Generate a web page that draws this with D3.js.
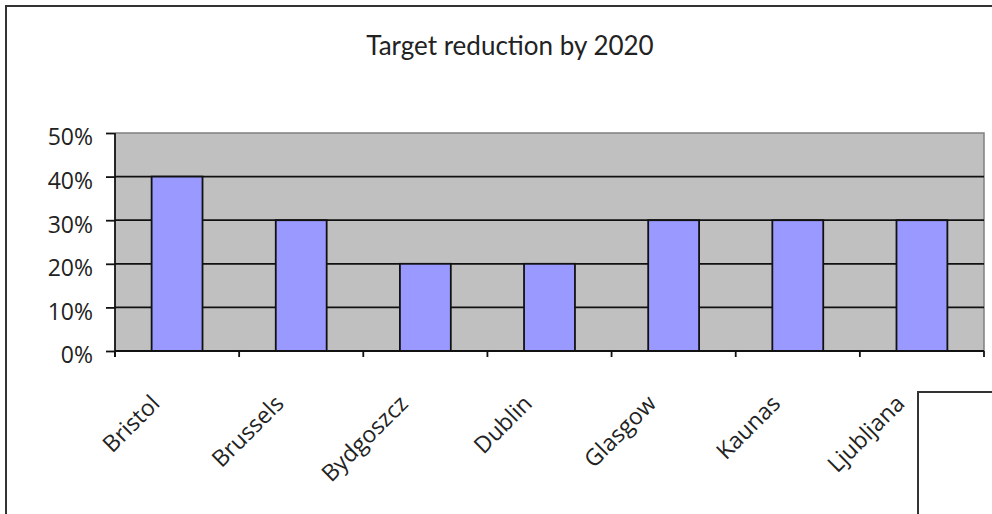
<!DOCTYPE html>
<html>
<head>
<meta charset="utf-8">
<script src="https://cdn.jsdelivr.net/npm/d3@7"></script>
<style>
  body { margin: 0; background: #fff; }
  svg { display: block; }
  .lbl { font-family: "Open Sans", sans-serif; fill: #222; }
</style>
</head>
<body>
<div id="chart"></div>
<script>
// 数据
const cities = ['Bristol', 'Brussels', 'Bydgoszcz', 'Dublin', 'Glasgow', 'Kaunas', 'Ljubljana'];
const targets = [0.40, 0.30, 0.20, 0.20, 0.30, 0.30, 0.30];
const yTicks = [0, 0.1, 0.2, 0.3, 0.4, 0.5];
const title = 'Target reduction by 2020';

const W = 992, H = 514;
const plot = { left: 115, right: 984, top: 133, bottom: 351 };

const svg = d3.select('#chart').append('svg')
  .attr('width', W)
  .attr('height', H);

// 外框
svg.append('path')
  .attr('d', `M6,${H} V6 H${W}`)
  .attr('fill', 'none')
  .attr('stroke', '#333')
  .attr('stroke-width', 2);

// 标题
svg.append('text')
  .attr('class', 'lbl')
  .attr('x', 510)
  .attr('y', 55)
  .attr('text-anchor', 'middle')
  .style('font-family', 'Lato, sans-serif')
  .style('font-size', '26px')
  .text(title);

const x = d3.scaleBand()
  .domain(cities)
  .range([plot.left, plot.right])
  .padding(0);

const y = d3.scaleLinear()
  .domain([0, 0.5])
  .range([plot.bottom, plot.top]);

// 绘图区背景
svg.append('rect')
  .attr('x', plot.left)
  .attr('y', plot.top)
  .attr('width', plot.right - plot.left)
  .attr('height', plot.bottom - plot.top)
  .attr('fill', '#c0c0c0');

// 绘图区上/右边框（灰色）
svg.append('path')
  .attr('d', `M${plot.left},${plot.top} H${plot.right} V${plot.bottom}`)
  .attr('fill', 'none')
  .attr('stroke', '#808080')
  .attr('stroke-width', 1.5);

// 网格线
svg.append('g')
  .selectAll('line')
  .data(yTicks.filter(t => t > 0 && t < 0.5))
  .join('line')
  .attr('x1', plot.left)
  .attr('x2', plot.right)
  .attr('y1', d => y(d))
  .attr('y2', d => y(d))
  .attr('stroke', '#111')
  .attr('stroke-width', 1.8);

// 柱子
const barW = x.bandwidth() * 0.41;
svg.append('g')
  .selectAll('rect')
  .data(cities)
  .join('rect')
  .attr('x', (d) => x(d) + (x.bandwidth() - barW) / 2)
  .attr('y', (d, i) => y(targets[i]))
  .attr('width', barW)
  .attr('height', (d, i) => y(0) - y(targets[i]))
  .attr('fill', '#9999ff')
  .attr('stroke', '#111')
  .attr('stroke-width', 1.8);

// y轴
const yAxis = svg.append('g')
  .attr('transform', `translate(${plot.left},0)`)
  .call(d3.axisLeft(y).tickValues(yTicks).tickFormat(d3.format('.0%')).tickSize(9).tickPadding(13));
yAxis.select('.domain').remove();
yAxis.selectAll('.tick line').attr('stroke', '#111').attr('stroke-width', 1.8);
yAxis.selectAll('.tick text')
  .attr('class', 'lbl')
  .attr('dy', '0.52em')
  .style('font-size', '23px');
yAxis.append('line')
  .attr('y1', plot.top)
  .attr('y2', plot.bottom + 6)
  .attr('stroke', '#111')
  .attr('stroke-width', 1.8);

// x轴：刻度在类别边界
const xAxis = svg.append('g');
xAxis.append('line')
  .attr('x1', plot.left)
  .attr('x2', plot.right)
  .attr('y1', plot.bottom)
  .attr('y2', plot.bottom)
  .attr('stroke', '#111')
  .attr('stroke-width', 1.8);
xAxis.selectAll('line.tk')
  .data(cities.concat(['end']))
  .join('line')
  .attr('class', 'tk')
  .attr('x1', (d, i) => i < cities.length ? x(d) : plot.right)
  .attr('x2', (d, i) => i < cities.length ? x(d) : plot.right)
  .attr('y1', plot.bottom)
  .attr('y2', plot.bottom + 6)
  .attr('stroke', '#111')
  .attr('stroke-width', 1.8);

xAxis.selectAll('text')
  .data(cities)
  .join('text')
  .attr('class', 'lbl')
  .attr('text-anchor', 'end')
  .attr('transform', d => `translate(${x(d) + x.bandwidth() / 2 - 16},405) rotate(-45)`)
  .style('font-size', '23px')
  .text(d => d);

// 右下角图例框（被裁切）
svg.append('rect')
  .attr('x', 918)
  .attr('y', 392)
  .attr('width', 100)
  .attr('height', 150)
  .attr('fill', '#fff')
  .attr('stroke', '#333')
  .attr('stroke-width', 2);
</script>
</body>
</html>
